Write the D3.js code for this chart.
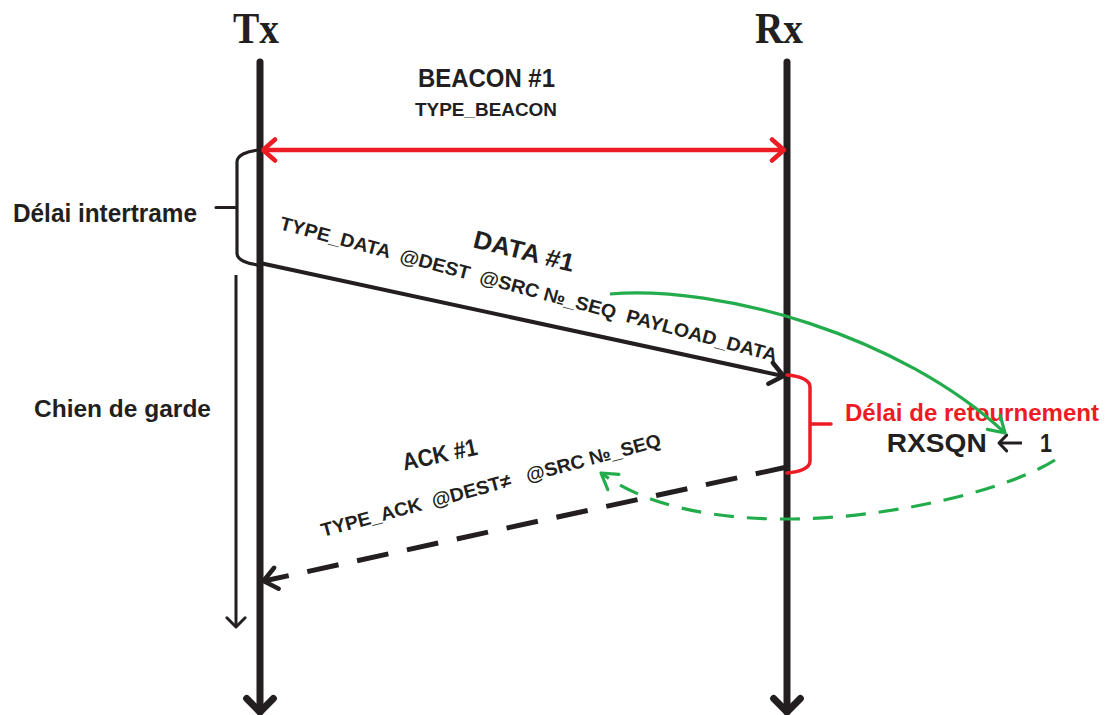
<!DOCTYPE html>
<meta charset="utf-8">
<style>
  body { margin: 0; background: #fff; }
  svg { display: block; }
  text { font-family: "Liberation Sans", Arial, sans-serif; font-weight: bold; fill: #231f20; }
  .title { font-family: "Liberation Serif", "Times New Roman", serif; }
</style>
<svg width="1112" height="715"></svg>
<script src="https://cdn.jsdelivr.net/npm/d3@7"></script>
<script>
  // lifelines and time (0 = top of lifeline, arbitrary units going down)
  var lifelines = ["Tx", "Rx"];
  var lifeSpan = [0, 652];

  // messages
  var msgNames = ["BEACON #1", "DATA #1", "ACK #1"];
  var msgFields = ["TYPE_BEACON", "TYPE_DATA  @DEST  @SRC №_SEQ  PAYLOAD_DATA", "TYPE_ACK  @DEST≠   @SRC №_SEQ"];
  var msgFrom = ["Tx", "Tx", "Rx"];
  var msgTo = ["Rx", "Rx", "Tx"];
  var msgSend = [90, 203, 407];
  var msgRecv = [90, 316, 521];

  // delays (braces)
  var delayLabels = ["Délai intertrame", "Délai de retournement"];
  var delayOwner = ["Tx", "Rx"];
  var delayStart = [90, 315];
  var delayEnd = [205, 413];

  // watchdog
  var watchdogLabel = "Chien de garde";
  var watchdogSpan = [215, 567];

  // sequence counter
  var counterName = "RXSQN";
  var counterValue = "1";

  var ink = "#231f20", red = "#ed1c24", green = "#22ac4b";

  var svg = d3.select("svg");
  var x = d3.scalePoint().domain(lifelines).range([260, 787]);
  var y = d3.scaleLinear().domain(lifeSpan).range([60, 712]);
  // position between the two lifelines (0 = Tx, 1 = Rx)
  var fx = d3.scaleLinear().domain([0, 1]).range([x("Tx"), x("Rx")]);

  function chevron(g, tx, ty, ang, len, spread, w, color) {
    var a1 = ang + Math.PI - spread, a2 = ang + Math.PI + spread;
    g.append("path")
      .attr("d", "M" + (tx + len * Math.cos(a1)) + "," + (ty + len * Math.sin(a1)) +
        "L" + tx + "," + ty +
        "L" + (tx + len * Math.cos(a2)) + "," + (ty + len * Math.sin(a2)))
      .attr("fill", "none").attr("stroke", color).attr("stroke-width", w)
      .attr("stroke-linecap", "round").attr("stroke-linejoin", "round");
  }

  function label(g, str, px, py, size, len, rot, anchor) {
    var t = g.append("text")
      .attr("transform", "translate(" + px + "," + py + ") rotate(" + (rot || 0) + ")")
      .attr("text-anchor", anchor || "middle")
      .style("font-size", size + "px")
      .style("white-space", "pre")
      .text(str);
    if (len) t.attr("textLength", len).attr("lengthAdjust", "spacingAndGlyphs");
    return t;
  }

  // lifeline titles
  label(svg, "Tx", x("Tx") - 4, 43, 45, 46).attr("class", "title");
  label(svg, "Rx", x("Rx") - 8, 43, 45, 48).attr("class", "title");

  // lifelines
  lifelines.forEach(function(l) {
    svg.append("line")
      .attr("x1", x(l)).attr("x2", x(l))
      .attr("y1", y(lifeSpan[0]) + 2).attr("y2", y(lifeSpan[1]))
      .attr("stroke", ink).attr("stroke-width", 7).attr("stroke-linecap", "round");
    chevron(svg, x(l), y(lifeSpan[1]), Math.PI / 2, 19, 0.78, 7, ink);
  });

  // message label offsets from the middle of each arrow
  var labelPos = [
    { name: [-37, -63, 26, 137, 0], fields: [-37.5, -34.3, 19, 142, 0] },
    { name: [-1.5, -60, 25, 103, 14], fields: [3.5, -24, 19, 514, 15] },
    { name: [-82, -61.5, 24, 76, -12], fields: [-31, -32.5, 19, 351, -15] }
  ];

  msgNames.forEach(function(name, i) {
    var x1 = x(msgFrom[i]), x2 = x(msgTo[i]);
    var y1 = y(msgSend[i]), y2 = y(msgRecv[i]);
    var dir = x2 > x1 ? 1 : -1;
    var ang = Math.atan2(y2 - y1, x2 - x1);
    var g = svg.append("g");
    if (msgSend[i] === msgRecv[i]) {
      // broadcast beacon: red double arrow
      g.append("line").attr("x1", x1 + 4).attr("x2", x2 - 4).attr("y1", y1).attr("y2", y2)
        .attr("stroke", red).attr("stroke-width", 4.5);
      chevron(g, x1 + 3, y1, Math.PI, 16, 0.72, 4.5, red);
      chevron(g, x2 - 3, y2, 0, 16, 0.72, 4.5, red);
    } else {
      var dashed = msgFrom[i] === "Rx";
      g.append("line").attr("x1", x1).attr("x2", x2 - dir * 4).attr("y1", y1).attr("y2", y2)
        .attr("stroke", ink).attr("stroke-width", dashed ? 5 : 4)
        .attr("stroke-dasharray", dashed ? "32,19" : null);
      chevron(g, x2 - dir * 3.5, y2, ang, 17, 0.68, 4.5, ink);
    }
    var mx = (x1 + x2) / 2, my = (y1 + y2) / 2, p = labelPos[i];
    label(g, name, mx + p.name[0], my + p.name[1], p.name[2], p.name[3], p.name[4]);
    label(g, msgFields[i], mx + p.fields[0], my + p.fields[1], p.fields[2], p.fields[3], p.fields[4]);
  });

  // braces for the delays
  var braceLayout = [
    { side: -1, color: ink, w: 3.2, tx: -63, ty: 14, size: 25, len: 184, anchor: "end" },
    { side: 1, color: red, w: 3.5, tx: 58, ty: -3, size: 23, len: 254, anchor: "start" }
  ];
  delayLabels.forEach(function(lab, i) {
    var b = braceLayout[i], s = b.side, d = 23;
    var cx = x(delayOwner[i]), y0 = y(delayStart[i]), y1 = y(delayEnd[i]), ym = (y0 + y1) / 2;
    svg.append("path")
      .attr("d", "M" + cx + "," + y0 +
        "C" + (cx + s * 13) + "," + (y0 + 1) + " " + (cx + s * d) + "," + (y0 + 5) + " " + (cx + s * d) + "," + (y0 + 12) +
        "L" + (cx + s * d) + "," + (y1 - 12) +
        "C" + (cx + s * d) + "," + (y1 - 5) + " " + (cx + s * 13) + "," + (y1 - 1) + " " + cx + "," + y1 +
        "M" + (cx + s * d) + "," + ym + "L" + (cx + s * (d + 21)) + "," + ym)
      .attr("fill", "none").attr("stroke", b.color).attr("stroke-width", b.w).attr("stroke-linecap", "round");
    label(svg, lab, cx + s * Math.abs(b.tx), ym + b.ty, b.size, b.len, 0, b.anchor)
      .style("fill", b.color);
  });

  // watchdog timer
  var wx = x("Tx") - 24;
  svg.append("line").attr("x1", wx).attr("x2", wx)
    .attr("y1", y(watchdogSpan[0])).attr("y2", y(watchdogSpan[1]))
    .attr("stroke", ink).attr("stroke-width", 3);
  chevron(svg, wx, y(watchdogSpan[1]), Math.PI / 2, 13, 0.78, 3, ink);
  label(svg, watchdogLabel, x("Tx") - 226, 416.7, 24.5, 177, 0, "start");

  // sequence counter at the receiver
  var cxr = x("Rx");
  label(svg, counterName, cxr + 99.7, 451.7, 26, 100, 0, "start");
  svg.append("line").attr("x1", cxr + 213).attr("x2", cxr + 235).attr("y1", 443).attr("y2", 443)
    .attr("stroke", ink).attr("stroke-width", 3);
  chevron(svg, cxr + 212, 443, Math.PI, 11, 0.8, 3, ink);
  label(svg, counterValue, cxr + 253, 451.7, 26, 12, 0, "start");

  // green links: sequence number copied into counter, counter reused in ACK
  var links = [
    { p: [[0.664, 234], [0.873, 225], [1.2144, 275], [1.4137, 373]], dashed: false },
    { p: [[1.5085, 400], [1.3757, 445], [0.8729, 500], [0.647, 413]], dashed: true }
  ];
  links.forEach(function(l) {
    var pts = l.p.map(function(q) { return [fx(q[0]), y(q[1])]; });
    var path = d3.path();
    path.moveTo(pts[0][0], pts[0][1]);
    path.bezierCurveTo(pts[1][0], pts[1][1], pts[2][0], pts[2][1], pts[3][0], pts[3][1]);
    svg.append("path").attr("d", path.toString())
      .attr("fill", "none").attr("stroke", green).attr("stroke-width", 3.2)
      .attr("stroke-dasharray", l.dashed ? "20,13" : null);
    var ang = Math.atan2(pts[3][1] - pts[2][1], pts[3][0] - pts[2][0]);
    chevron(svg, pts[3][0], pts[3][1], ang, 18, 0.55, 3.2, green);
  });
</script>
